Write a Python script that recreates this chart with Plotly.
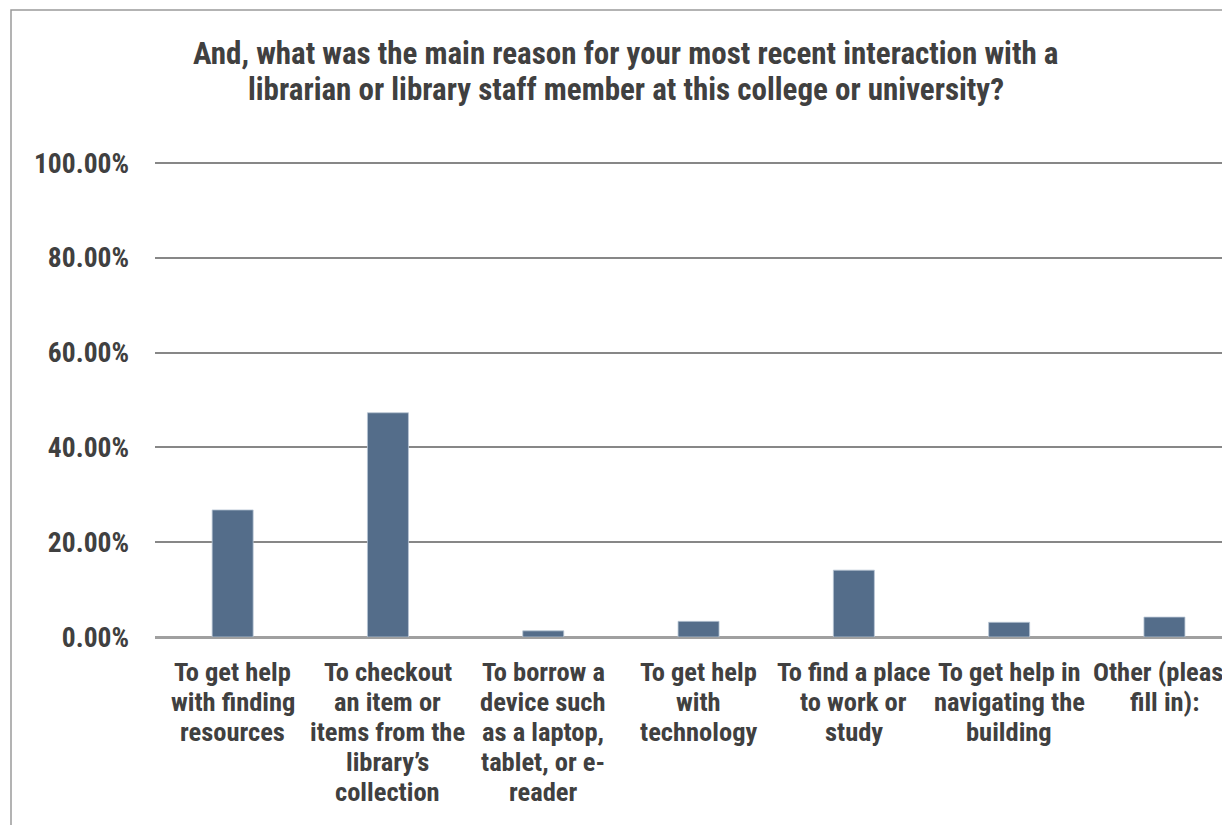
import plotly.graph_objects as go

categories = [
    "To get help with finding resources",
    "To checkout an item or items from the library’s collection",
    "To borrow a device such as a laptop, tablet, or e-reader",
    "To get help with technology",
    "To find a place to work or study",
    "To get help in navigating the building",
    "Other (please fill in):",
]
category_lines = [
    ["To get help", "with finding", "resources"],
    ["To checkout", "an item or", "items from the", "library’s", "collection"],
    ["To borrow a", "device such", "as a laptop,", "tablet, or e-", "reader"],
    ["To get help", "with", "technology"],
    ["To find a place", "to work or", "study"],
    ["To get help in", "navigating the", "building"],
    ["Other (please", "fill in):"],
]
shares = [0.268, 0.473, 0.013, 0.033, 0.141, 0.031, 0.042]
y_ticks = [0, 0.2, 0.4, 0.6, 0.8, 1.0]
title_lines = [
    "And, what was the main reason for your most recent interaction with a",
    "librarian or library staff member at this college or university?",
]

FONT = "Liberation Sans Narrow, Arial Narrow, Roboto Condensed, sans-serif"
TXT = "#404040"
W, H = 1222, 817
L, T, B = 147, 153, 188
Y_TOP = 1.004
plot_w = W - L
plot_h = H - T - B
SLOT = 155.3  # px per category

fig = go.Figure(go.Bar(
    x=categories, y=shares, width=0.264,
    marker=dict(color="#546D8A", line=dict(color="#B9C6D4", width=0.8)),
))

annotations = []
for cat, lines in zip(categories, category_lines):
    for i, line in enumerate(lines):
        annotations.append(dict(
            x=cat, xref="x", y=0, yref="paper",
            text=line, showarrow=False,
            xanchor="center", yanchor="middle",
            yshift=-(34 + 30 * i),
            font=dict(family=FONT, size=26.5, color=TXT, weight="bold"),
        ))

for i, line in enumerate(title_lines):
    annotations.append(dict(
        x=(617.5 - L) / plot_w, xref="paper", y=1, yref="paper",
        text=line, showarrow=False,
        xanchor="center", yanchor="middle",
        yshift=108 - 36 * i,
        font=dict(family=FONT, size=31, color=TXT, weight="bold"),
    ))

fig.update_layout(
    width=W, height=H,
    margin=dict(l=L, r=0, t=T, b=B, pad=0),
    paper_bgcolor="white", plot_bgcolor="white",
    showlegend=False,
    font=dict(family=FONT, color=TXT, size=26, weight="bold"),
    xaxis=dict(
        type="category", categoryorder="array", categoryarray=categories,
        range=[-0.5, -0.5 + plot_w / SLOT],
        tickangle=0, showgrid=False, showline=False, zeroline=False,
        ticks="", showticklabels=False,
    ),
    yaxis=dict(
        range=[0, Y_TOP], tickvals=y_ticks, tickformat=".2%",
        showgrid=True, gridcolor="#878787", gridwidth=1.5,
        zeroline=True, zerolinecolor="#A0A0A0", zerolinewidth=2.5,
        showline=False, ticks="",
        tickfont=dict(size=27.5, family=FONT, color=TXT, weight="bold"),
        ticklabelstandoff=25,
    ),
    annotations=annotations,
    shapes=[dict(
        type="rect", xref="paper", yref="paper",
        x0=(3 - L) / plot_w, x1=1.1,
        y0=-1, y1=1 + (T - 2) / plot_h,
        line=dict(color="#9A9A9A", width=1.5), fillcolor="rgba(0,0,0,0)",
        layer="below",
    )],
)

fig.write_html("out.html")
